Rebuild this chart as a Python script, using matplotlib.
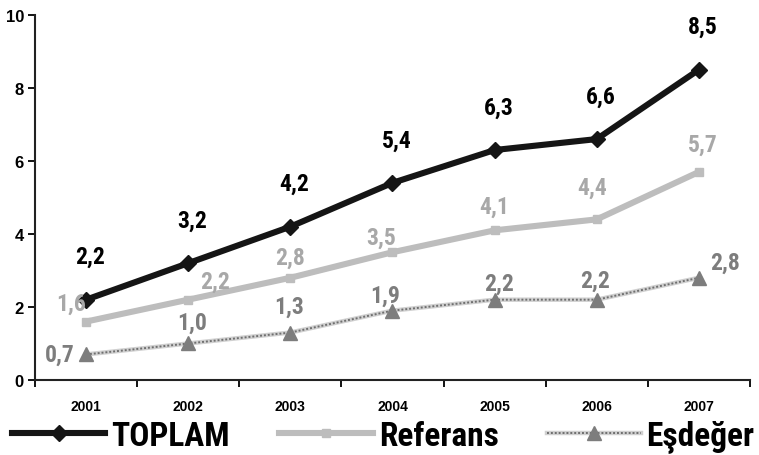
import matplotlib
matplotlib.use("Agg")
import matplotlib.pyplot as plt
from matplotlib.ticker import FixedLocator

# veriler
years    = ["2001", "2002", "2003", "2004", "2005", "2006", "2007"]
toplam   = [2.2, 3.2, 4.2, 5.4, 6.3, 6.6, 8.5]
referans = [1.6, 2.2, 2.8, 3.5, 4.1, 4.4, 5.7]
esdeger  = [0.7, 1.0, 1.3, 1.9, 2.2, 2.2, 2.8]

NARROW = ["Roboto Condensed", "DejaVu Sans"]
ARIAL = ["Liberation Sans", "DejaVu Sans"]

c_top, c_ref, c_ref_lbl, c_esd = "#151515", "#bdbdbd", "#a8a8a8", "#7d7d7d"

fig = plt.figure(figsize=(7.59, 4.56), dpi=100)
ax = fig.add_axes([0.0461, 0.1645, 0.942, 0.8005])
x = range(len(years))

# Eşdeğer: açık zemin üstüne noktalı desen
l_esd_bg, = ax.plot(x, esdeger, color="#d0d0d0", lw=3.2, zorder=2)
l_esd_dot, = ax.plot(x, esdeger, color="#6f6f6f", lw=1.4, ls=(0, (1, 1)), zorder=3)
l_esd_m, = ax.plot(x, esdeger, ls="none", marker="^", ms=10, color=c_esd, zorder=4)
l_ref, = ax.plot(x, referans, color=c_ref, lw=4.4, marker="s", ms=6, zorder=3)
l_top, = ax.plot(x, toplam, color=c_top, lw=4.4, marker="D", ms=8, zorder=5)

lbl = dict(fontsize=17, fontweight="bold", family=NARROW, fontstretch="condensed",
           ha="center", va="center", textcoords="offset points", zorder=6)

for i, v in enumerate(toplam):
    ax.annotate(f"{v:.1f}".replace(".", ","), (i, v), xytext=(3, 31), color="black", **lbl)

ref_off = [(-11, 13), (19, 13), (0, 15), (-8, 11), (0, 17), (-3, 23), (3, 20)]
for i, v in enumerate(referans):
    ax.annotate(f"{v:.1f}".replace(".", ","), (i, v), xytext=ref_off[i], color=c_ref_lbl, **lbl)

esd_off = [(-19, 0), (3, 15), (-1, 19), (-5, 11), (3, 12), (-1, 14), (19, 11)]
for i, v in enumerate(esdeger):
    ax.annotate(f"{v:.1f}".replace(".", ","), (i, v), xytext=esd_off[i], color=c_esd, **lbl)

# eksenler
ax.set_xlim(-0.5, len(years) - 0.5)
ax.set_ylim(0, 10)
ax.set_yticks([0, 2, 4, 6, 8, 10])
ax.set_xticks(list(x))
ax.set_xticklabels(years)
ax.xaxis.set_minor_locator(FixedLocator([i - 0.5 for i in range(len(years) + 1)]))
ax.tick_params(axis="x", which="major", length=0, pad=14)
ax.tick_params(axis="x", which="minor", length=5, width=1.3, direction="out")
ax.tick_params(axis="y", length=5, width=1.3, direction="out", pad=3)
for t in ax.get_xticklabels():
    t.set_fontweight("bold"); t.set_fontsize(10); t.set_family(ARIAL)
for t in ax.get_yticklabels():
    t.set_fontweight("bold"); t.set_fontsize(12); t.set_family(ARIAL)
for s in ("top", "right"):
    ax.spines[s].set_visible(False)
for s in ("left", "bottom"):
    ax.spines[s].set_linewidth(1.5)
    ax.spines[s].set_color("#222222")
ax.spines["left"].set_zorder(7)

# lejant (üç ayrı parça)
leg_kw = dict(frameon=False,
              prop=dict(family=NARROW, weight="bold", size=24, stretch="condensed"),
              handlelength=2.8, handletextpad=0.18, borderpad=0, borderaxespad=0,
              loc="center left")
fig.legend([l_top], ["TOPLAM"], bbox_to_anchor=(0.016, 0.042), **leg_kw)
fig.legend([l_ref], ["Referans"], bbox_to_anchor=(0.368, 0.042), **leg_kw)
fig.legend([(l_esd_bg, l_esd_dot, l_esd_m)], ["Eşdeğer"], bbox_to_anchor=(0.721, 0.042),
           **leg_kw)

fig.savefig("out.png", dpi=100)
